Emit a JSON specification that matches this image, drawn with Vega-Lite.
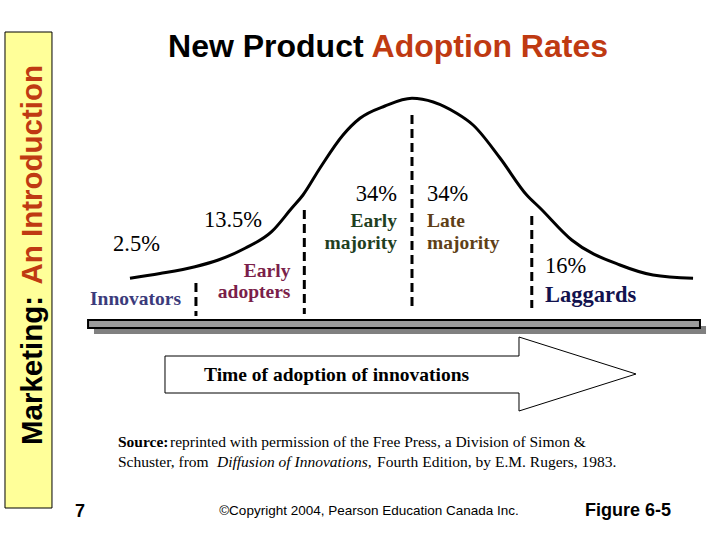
{
  "$schema": "https://vega.github.io/schema/vega-lite/v6.json",
  "width": 720,
  "height": 540,
  "autosize": {"type": "fit", "contains": "padding"},
  "padding": 0,
  "background": "white",
  "config": {"view": {"stroke": null}},
  "datasets": {
    "curve": [
      {"x": -2.564, "y": 20.85}, {"x": -2.291, "y": 23.25}, {"x": -1.973, "y": 26.65},
      {"x": -1.761, "y": 30.0}, {"x": -1.518, "y": 35.85}, {"x": -1.276, "y": 44.15},
      {"x": -1.094, "y": 55.85}, {"x": -0.991, "y": 62.5}, {"x": -0.836, "y": 76.0},
      {"x": -0.627, "y": 92.5}, {"x": -0.473, "y": 100.85}, {"x": -0.246, "y": 107.0},
      {"x": 0, "y": 110.85}, {"x": 0.406, "y": 103.35}, {"x": 0.555, "y": 97.5},
      {"x": 0.8, "y": 81.0}, {"x": 1.043, "y": 62.5}, {"x": 1.164, "y": 56.0},
      {"x": 1.452, "y": 40.0}, {"x": 1.891, "y": 27.5}, {"x": 2.191, "y": 22.5},
      {"x": 2.555, "y": 20.85}
    ],
    "dividers": [
      {"boundary": "Innovators / Early adopters", "x": -1.964, "y": 18.5, "y2": 2},
      {"boundary": "Early adopters / Early majority", "x": -0.979, "y": 55, "y2": 3},
      {"boundary": "Early majority / Late majority", "x": 0, "y": 102.5, "y2": 6.5},
      {"boundary": "Late majority / Laggards", "x": 1.089, "y": 52, "y2": 6}
    ],
    "timeline": [
      {"part": "shadow", "x": -2.891, "x2": 2.673, "y": -3, "y2": -7},
      {"part": "bar", "x": -2.945, "x2": 2.618, "y": 0, "y2": -4}
    ],
    "sidebar": [{"x": -3.7, "x2": -3.273, "y": 144, "y2": -94}],
    "arrow": [
      {"i": 1, "x": -2.2455, "y": -18},
      {"i": 2, "x": 0.9727, "y": -18},
      {"i": 3, "x": 0.9727, "y": -8.5},
      {"i": 4, "x": 2.0364, "y": -27},
      {"i": 5, "x": 0.9727, "y": -45.5},
      {"i": 6, "x": 0.9727, "y": -36.5},
      {"i": 7, "x": -2.2455, "y": -36.5},
      {"i": 8, "x": -2.2455, "y": -18}
    ],
    "shares": [
      {"segment": "Innovators", "text": "2.5%", "x": -2.718, "y": 34.5},
      {"segment": "Early adopters", "text": "13.5%", "x": -1.891, "y": 46.65},
      {"segment": "Early majority", "text": "34%", "x": -0.136, "y": 59.65},
      {"segment": "Late majority", "text": "34%", "x": 0.136, "y": 59.65},
      {"segment": "Laggards", "text": "16%", "x": 1.209, "y": 23.35}
    ],
    "segmentNames": [
      {"segment": "Innovators", "text": "Innovators", "x": -2.927, "y": 7.5},
      {"segment": "Early adopters", "text": "Early", "x": -1.105, "y": 21.65},
      {"segment": "Early adopters", "text": "adopters", "x": -1.105, "y": 10.85},
      {"segment": "Early majority", "text": "Early", "x": -0.136, "y": 46.65},
      {"segment": "Early majority", "text": "majority", "x": -0.136, "y": 35.5},
      {"segment": "Late majority", "text": "Late", "x": 0.136, "y": 46.65},
      {"segment": "Late majority", "text": "majority", "x": 0.136, "y": 35.5},
      {"segment": "Laggards", "text": "Laggards", "x": 1.209, "y": 8.85}
    ],
    "title": [
      {"part": "New Product", "x": -2.218, "y": 131.5},
      {"part": "Adoption Rates", "x": 1.782, "y": 131.5}
    ],
    "sidebarTitle": [
      {"part": "Marketing:", "x": -3.364, "y": -62.5},
      {"part": "An Introduction", "x": -3.364, "y": 127.5}
    ],
    "arrowLabel": [{"text": "Time of adoption of innovations", "x": -1.891, "y": -30.5}],
    "source": [
      {"style": "bold", "text": "Source:", "x": -2.673, "y": -63.5},
      {"style": "plain", "text": "reprinted with permission of the Free Press, a Division of Simon &", "x": -2.2, "y": -63.5},
      {"style": "plain", "text": "Schuster, from", "x": -2.673, "y": -73.5},
      {"style": "italic", "text": "Diffusion of Innovations,", "x": -1.773, "y": -73.5},
      {"style": "plain", "text": "Fourth Edition, by E.M. Rugers, 1983.", "x": -0.318, "y": -73.5}
    ],
    "footer": [
      {"part": "page", "text": "7", "x": -3.064, "y": -98.5},
      {"part": "copyright", "text": "©Copyright 2004, Pearson Education Canada Inc.", "x": -0.391, "y": -97.5},
      {"part": "figure", "text": "Figure 6-5", "x": 1.573, "y": -98}
    ]
  },
  "encoding": {
    "x": {"field": "x", "type": "quantitative", "scale": {"domain": [-3.74545, 2.8], "nice": false, "zero": false}, "axis": null},
    "y": {"field": "y", "type": "quantitative", "scale": {"domain": [-110, 160], "nice": false, "zero": false}, "axis": null}
  },
  "layer": [
    {
      "data": {"name": "sidebar"},
      "mark": {"type": "rect", "fill": "#FFFF99", "stroke": "#000000", "strokeWidth": 1},
      "encoding": {"x2": {"field": "x2"}, "y2": {"field": "y2"}}
    },
    {
      "data": {"name": "sidebarTitle"},
      "transform": [{"filter": "datum.part === 'Marketing:'"}],
      "mark": {"type": "text", "angle": 270, "align": "left", "baseline": "alphabetic", "font": "Liberation Sans", "fontWeight": "bold", "fontSize": 29.5, "color": "#000000"},
      "encoding": {"text": {"field": "part"}}
    },
    {
      "data": {"name": "sidebarTitle"},
      "transform": [{"filter": "datum.part === 'An Introduction'"}],
      "mark": {"type": "text", "angle": 270, "align": "right", "baseline": "alphabetic", "font": "Liberation Sans", "fontWeight": "bold", "fontSize": 29.5, "color": "#BF3A12"},
      "encoding": {"text": {"field": "part"}}
    },
    {
      "data": {"name": "title"},
      "transform": [{"filter": "datum.part === 'New Product'"}],
      "mark": {"type": "text", "align": "left", "baseline": "alphabetic", "font": "Liberation Sans", "fontWeight": "bold", "fontSize": 32, "color": "#000000"},
      "encoding": {"text": {"field": "part"}}
    },
    {
      "data": {"name": "title"},
      "transform": [{"filter": "datum.part === 'Adoption Rates'"}],
      "mark": {"type": "text", "align": "right", "baseline": "alphabetic", "font": "Liberation Sans", "fontWeight": "bold", "fontSize": 32, "color": "#BF3A12"},
      "encoding": {"text": {"field": "part"}}
    },
    {
      "data": {"name": "curve"},
      "mark": {"type": "line", "color": "#000000", "strokeWidth": 3, "interpolate": "monotone"},
      "encoding": {}
    },
    {
      "data": {"name": "dividers"},
      "mark": {"type": "rule", "color": "#000000", "strokeWidth": 3, "strokeDash": [9, 5]},
      "encoding": {"y2": {"field": "y2"}}
    },
    {
      "data": {"name": "timeline"},
      "transform": [{"filter": "datum.part === 'shadow'"}],
      "mark": {"type": "rect", "fill": "#808080"},
      "encoding": {"x2": {"field": "x2"}, "y2": {"field": "y2"}}
    },
    {
      "data": {"name": "timeline"},
      "transform": [{"filter": "datum.part === 'bar'"}],
      "mark": {"type": "rect", "fill": "#9C9C9C", "stroke": "#000000", "strokeWidth": 2},
      "encoding": {"x2": {"field": "x2"}, "y2": {"field": "y2"}}
    },
    {
      "data": {"name": "arrow"},
      "mark": {"type": "line", "color": "#000000", "strokeWidth": 1},
      "encoding": {"order": {"field": "i", "type": "quantitative"}}
    },
    {
      "data": {"name": "arrowLabel"},
      "mark": {"type": "text", "align": "left", "baseline": "alphabetic", "font": "Liberation Serif", "fontWeight": "bold", "fontSize": 19.5, "color": "#000000"},
      "encoding": {"text": {"field": "text"}}
    },
    {
      "data": {"name": "shares"},
      "transform": [{"filter": "datum.segment !== 'Early majority'"}],
      "mark": {"type": "text", "align": "left", "baseline": "alphabetic", "font": "Liberation Serif", "fontSize": 22.5, "color": "#000000"},
      "encoding": {"text": {"field": "text"}}
    },
    {
      "data": {"name": "shares"},
      "transform": [{"filter": "datum.segment === 'Early majority'"}],
      "mark": {"type": "text", "align": "right", "baseline": "alphabetic", "font": "Liberation Serif", "fontSize": 22.5, "color": "#000000"},
      "encoding": {"text": {"field": "text"}}
    },
    {
      "data": {"name": "segmentNames"},
      "transform": [{"filter": "datum.segment === 'Innovators' || datum.segment === 'Late majority'"}],
      "mark": {"type": "text", "align": "left", "baseline": "alphabetic", "font": "Liberation Serif", "fontWeight": "bold", "fontSize": 19.5},
      "encoding": {
        "text": {"field": "text"},
        "color": {"field": "segment", "type": "nominal", "legend": null,
          "scale": {"domain": ["Innovators", "Early adopters", "Early majority", "Late majority", "Laggards"],
                    "range": ["#3B3B7B", "#7B1F4A", "#1F3F1F", "#5F3F17", "#12124E"]}}
      }
    },
    {
      "data": {"name": "segmentNames"},
      "transform": [{"filter": "datum.segment === 'Early adopters' || datum.segment === 'Early majority'"}],
      "mark": {"type": "text", "align": "right", "baseline": "alphabetic", "font": "Liberation Serif", "fontWeight": "bold", "fontSize": 19.5},
      "encoding": {
        "text": {"field": "text"},
        "color": {"field": "segment", "type": "nominal", "legend": null,
          "scale": {"domain": ["Innovators", "Early adopters", "Early majority", "Late majority", "Laggards"],
                    "range": ["#3B3B7B", "#7B1F4A", "#1F3F1F", "#5F3F17", "#12124E"]}}
      }
    },
    {
      "data": {"name": "segmentNames"},
      "transform": [{"filter": "datum.segment === 'Laggards'"}],
      "mark": {"type": "text", "align": "left", "baseline": "alphabetic", "font": "Liberation Serif", "fontWeight": "bold", "fontSize": 22.5},
      "encoding": {
        "text": {"field": "text"},
        "color": {"field": "segment", "type": "nominal", "legend": null,
          "scale": {"domain": ["Innovators", "Early adopters", "Early majority", "Late majority", "Laggards"],
                    "range": ["#3B3B7B", "#7B1F4A", "#1F3F1F", "#5F3F17", "#12124E"]}}
      }
    },
    {
      "data": {"name": "source"},
      "transform": [{"filter": "datum.style === 'bold'"}],
      "mark": {"type": "text", "align": "left", "baseline": "alphabetic", "font": "Liberation Serif", "fontWeight": "bold", "fontSize": 15.5, "color": "#000000"},
      "encoding": {"text": {"field": "text"}}
    },
    {
      "data": {"name": "source"},
      "transform": [{"filter": "datum.style === 'plain'"}],
      "mark": {"type": "text", "align": "left", "baseline": "alphabetic", "font": "Liberation Serif", "fontSize": 15.5, "color": "#000000"},
      "encoding": {"text": {"field": "text"}}
    },
    {
      "data": {"name": "source"},
      "transform": [{"filter": "datum.style === 'italic'"}],
      "mark": {"type": "text", "align": "left", "baseline": "alphabetic", "font": "Liberation Serif", "fontStyle": "italic", "fontSize": 15.5, "color": "#000000"},
      "encoding": {"text": {"field": "text"}}
    },
    {
      "data": {"name": "footer"},
      "transform": [{"filter": "datum.part !== 'copyright'"}],
      "mark": {"type": "text", "align": "left", "baseline": "alphabetic", "font": "Liberation Sans", "fontWeight": "bold", "fontSize": 18, "color": "#000000"},
      "encoding": {"text": {"field": "text"}}
    },
    {
      "data": {"name": "footer"},
      "transform": [{"filter": "datum.part === 'copyright'"}],
      "mark": {"type": "text", "align": "center", "baseline": "alphabetic", "font": "Liberation Sans", "fontSize": 13.5, "color": "#000000"},
      "encoding": {"text": {"field": "text"}}
    }
  ]
}
